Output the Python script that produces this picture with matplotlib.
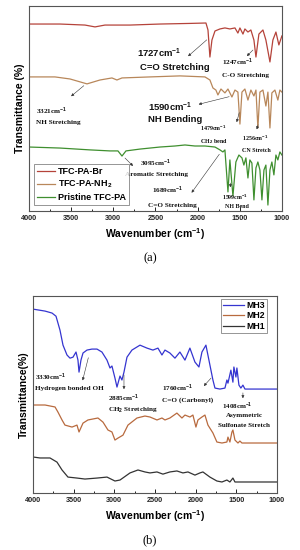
import matplotlib
matplotlib.use("Agg")
import matplotlib.pyplot as plt
from matplotlib.ticker import MultipleLocator

plt.rcParams['font.family'] = ['Liberation Sans', 'DejaVu Sans']
plt.rcParams['mathtext.fontset'] = 'custom'
plt.rcParams['mathtext.rm'] = 'Liberation Sans:bold'
plt.rcParams['mathtext.bf'] = 'Liberation Sans:bold'
plt.rcParams['mathtext.default'] = 'bf'

# ---------------- Panel (a) data ----------------
br_wn = [4000, 3632, 3336, 3217, 3099, 2802, 2447, 2091, 1901, 1877, 1854, 1830, 1794, 1735, 1676,
         1617, 1557, 1522, 1498, 1462, 1439, 1403, 1368, 1332, 1308, 1273, 1225, 1190, 1142, 1107,
         1071, 1036, 1000]
br_t = [91.2, 91.2, 90.7, 89.8, 90.7, 90.7, 91.2, 91.5, 91.7, 88.3, 75.1, 83.4, 87.8, 88.8, 89.3,
        88.8, 89.3, 86.8, 89.3, 86.3, 88.8, 87.3, 88.3, 83.4, 75.1, 86.3, 88.3, 83.4, 72.7, 83.4,
        87.3, 81.0, 85.4]

nh2_wn = [4000, 3692, 3514, 3312, 3158, 3016, 2957, 2897, 2565, 2209, 1913, 1854, 1818, 1783, 1759,
          1723, 1676, 1640, 1593, 1557, 1522, 1498, 1474, 1439, 1403, 1368, 1332, 1308, 1285, 1261,
          1225, 1190, 1166, 1142, 1119, 1083, 1048, 1024, 1000]
nh2_t = [65.4, 65.4, 64.4, 62.0, 63.9, 64.9, 63.9, 64.9, 65.4, 65.9, 65.4, 63.9, 60.0, 59.0, 56.6,
         59.5, 57.6, 59.5, 55.6, 59.0, 58.0, 42.4, 58.0, 59.5, 54.1, 59.0, 56.1, 59.0, 40.5, 58.0,
         59.0, 51.2, 58.0, 40.5, 57.6, 59.0, 54.1, 59.0, 58.0]

pr_wn = [4000, 3632, 3277, 3040, 2945, 2897, 2850, 2684, 2447, 2269, 2150, 2032, 1913, 1794, 1735,
         1700, 1676, 1640, 1617, 1581, 1546, 1510, 1474, 1451, 1427, 1403, 1380, 1356, 1332, 1308,
         1285, 1261, 1237, 1213, 1190, 1166, 1142, 1119, 1095, 1071, 1048, 1024, 1000]
pr_t = [31.2, 30.7, 29.8, 29.3, 29.3, 26.8, 29.3, 30.2, 31.2, 31.7, 32.2, 31.7, 31.7, 31.2, 29.8,
        28.8, 29.8, 9.3, 24.9, 7.3, 23.9, 27.3, 25.9, 22.4, 25.9, 16.1, 24.9, 23.4, 5.4, 21.0,
        23.9, 20.0, 5.4, 20.0, 22.4, 2.9, 20.0, 23.9, 17.6, 27.3, 24.9, 28.8, 27.3]

labels_a = ['TFC-PA-Br', 'TFC-PA-NH$_2$', 'Pristine TFC-PA']

# ---------------- Panel (b) data ----------------
mh3_wn = [4000, 3852, 3766, 3717, 3668, 3631, 3582, 3545, 3508, 3471, 3447, 3434, 3410, 3385, 3336,
          3275, 3213, 3152, 3090, 3053, 3029, 2992, 2967, 2930, 2906, 2881, 2844, 2783, 2684, 2598,
          2525, 2463, 2414, 2377, 2316, 2254, 2193, 2131, 2070, 2008, 1959, 1922, 1873, 1836, 1787,
          1762, 1701, 1639, 1615, 1602, 1566, 1541, 1529, 1504, 1492, 1467, 1443, 1418, 1393, 1000]
mh3_t = [93.4, 92.4, 91.4, 89.8, 82.7, 75.1, 70.1, 68.5, 69.0, 71.6, 67.5, 61.4, 67.5, 71.1, 72.6,
         73.1, 73.1, 71.6, 67.5, 63.5, 64.5, 58.4, 53.8, 59.4, 57.4, 61.4, 69.0, 72.6, 75.1, 73.6,
         72.6, 73.6, 70.1, 72.6, 71.1, 68.5, 71.6, 67.5, 73.6, 66.5, 64.0, 71.6, 75.1, 67.5, 57.4,
         53.3, 52.8, 53.3, 57.4, 55.8, 62.4, 56.3, 64.0, 58.9, 63.5, 54.8, 53.3, 54.8, 52.8, 52.8]

mh2_wn = [4000, 3852, 3729, 3693, 3643, 3607, 3520, 3459, 3434, 3385, 3324, 3201, 3139, 3078, 3029,
          2992, 2955, 2893, 2832, 2721, 2623, 2561, 2475, 2414, 2377, 2316, 2230, 2168, 2131, 2070,
          2033, 1996, 1971, 1922, 1885, 1848, 1787, 1738, 1676, 1615, 1602, 1578, 1553, 1541, 1516,
          1479, 1455, 1430, 1000]
mh2_t = [44.7, 44.7, 43.7, 41.1, 37.1, 34.5, 33.5, 34.5, 31.0, 35.5, 37.1, 38.1, 36.0, 32.0, 31.0,
         26.9, 27.9, 29.4, 34.5, 38.1, 39.1, 38.6, 37.1, 38.1, 37.1, 38.1, 40.6, 38.1, 39.6, 38.6,
         39.6, 33.5, 37.1, 38.6, 39.6, 34.5, 30.5, 25.9, 25.4, 25.9, 28.4, 25.9, 31.0, 32.0, 26.9,
         25.4, 26.4, 25.4, 25.4]

mh1_wn = [4000, 3914, 3791, 3705, 3643, 3570, 3459, 3361, 3213, 3090, 2992, 2930, 2807, 2709, 2623,
          2561, 2475, 2402, 2316, 2230, 2156, 2094, 2008, 1947, 1910, 1824, 1738, 1676, 1615, 1578,
          1541, 1516, 1455, 1000]
mh1_t = [18.3, 17.8, 17.8, 15.7, 11.7, 8.1, 7.6, 7.1, 7.6, 8.1, 6.1, 6.6, 10.2, 11.7, 10.7,
         10.2, 10.7, 9.6, 10.7, 11.2, 10.2, 10.7, 9.1, 10.2, 10.7, 8.1, 6.1, 5.6, 6.6, 5.6,
         7.6, 5.6, 5.6, 5.6]

labels_b = ['MH3', 'MH2', 'MH1']

xticks = [4000, 3500, 3000, 2500, 2000, 1500, 1000]

fig = plt.figure(figsize=(3.0, 5.5), dpi=100)
ax1 = fig.add_axes([0.0967, 0.6164, 0.843, 0.3727])
ax2 = fig.add_axes([0.11, 0.1036, 0.813, 0.358])

frame_col = '#555555'


def style(ax):
    ax.set_xlim(4000, 1000)
    ax.set_ylim(0, 100)
    ax.set_xticks(xticks)
    ax.xaxis.set_minor_locator(MultipleLocator(250))
    ax.set_yticks([])
    ax.tick_params(axis='x', which='major', direction='in', length=3, width=0.7,
                   labelsize=5.2, colors='#222222', pad=3)
    ax.tick_params(axis='x', which='minor', direction='in', length=1.5, width=0.6)
    for lab in ax.get_xticklabels():
        lab.set_fontweight('bold')
    for s in ax.spines.values():
        s.set_color(frame_col)
        s.set_linewidth(0.8)
    ax.set_xlabel('Wavenumber (cm$^{-1}$)', fontsize=7.5, fontweight='bold', labelpad=3)


# ---------- panel (a) ----------
ax1.plot(br_wn, br_t, color='#B5433A', lw=0.9, label=labels_a[0])
ax1.plot(nh2_wn, nh2_t, color='#B8875A', lw=0.9, label=labels_a[1])
ax1.plot(pr_wn, pr_t, color='#3F8F2F', lw=0.9, label=labels_a[2])
style(ax1)
ax1.set_ylabel('Transmittance (%)', fontsize=7.5, fontweight='bold', labelpad=3)
leg = ax1.legend(loc='lower left', bbox_to_anchor=(0.012, 0.02),
                 prop={'weight': 'bold', 'size': 6.5}, frameon=True, fancybox=False,
                 edgecolor='#666666', handlelength=2.0, borderpad=0.35, labelspacing=0.3,
                 handletextpad=0.35, borderaxespad=0.2)
leg.get_frame().set_linewidth(0.6)

serif = ['Liberation Serif', 'DejaVu Serif']
arrow_kw = dict(arrowstyle='-|>', lw=0.4, color='#333333', mutation_scale=4)


def note(ax, xy, xytext):
    ax.annotate('', xy=xytext, xytext=xy, arrowprops=arrow_kw)


def txt(ax, x, y, s, size, fam=None):
    kw = dict(fontsize=size, fontweight='bold', ha='left', va='center', color='#111111')
    if fam is not None:
        kw['family'] = fam
    ax.text(x, y, s, **kw)


txt(ax1, 2719, 77.1, '1727cm$^{-1}$', 6.8)
txt(ax1, 2684, 70.2, 'C=O Stretching', 6.8)
note(ax1, (1866, 84.4), (2138, 74.6))

txt(ax1, 1711, 72.7, '1247cm$^{-1}$', 5.2, serif)
txt(ax1, 1711, 66.3, 'C-O Stretching', 5.2, serif)
note(ax1, (1320, 79.5), (1439, 74.6))

txt(ax1, 3917, 48.8, '3321cm$^{-1}$', 5.2, serif)
txt(ax1, 3917, 43.4, 'NH Stretching', 5.2, serif)
note(ax1, (3324, 62.0), (3526, 55.1))

txt(ax1, 2589, 50.7, '1590cm$^{-1}$', 6.8)
txt(ax1, 2589, 44.4, 'NH Bending', 6.8)
note(ax1, (1593, 56.1), (2020, 51.7))

txt(ax1, 1972, 40.5, '1479cm$^{-1}$', 4.3, serif)
txt(ax1, 1972, 34.1, 'CH$_2$ bend', 4.3, serif)
note(ax1, (1498, 49.3), (1545, 42.0))

txt(ax1, 1474, 35.6, '1256cm$^{-1}$', 4.3, serif)
txt(ax1, 1474, 29.3, 'CN Stretch', 4.3, serif)
note(ax1, (1273, 43.4), (1308, 38.5))

txt(ax1, 2684, 23.4, '3095cm$^{-1}$', 5.2, serif)
txt(ax1, 2862, 17.6, 'Aromatic Stretching', 5.2, serif)
note(ax1, (2885, 26.8), (2743, 21.0))

txt(ax1, 2541, 10.2, '1689cm$^{-1}$', 5.2, serif)
txt(ax1, 2589, 2.9, 'C=O Stretching', 5.2, serif)
note(ax1, (1723, 28.8), (2091, 7.8))

txt(ax1, 1711, 6.8, '1599cm$^{-1}$', 4.3, serif)
txt(ax1, 1676, 2.0, 'NH Bend', 4.3, serif)
note(ax1, (1605, 15.0), (1617, 10.2))

fig.text(0.5, 1 - 258 / 550, '(a)', fontsize=9, family=serif, ha='center', va='center')

# ---------- panel (b) ----------
ax2.plot(mh3_wn, mh3_t, color='#3535D0', lw=0.9, label=labels_b[0])
ax2.plot(mh2_wn, mh2_t, color='#B86A3E', lw=0.9, label=labels_b[1])
ax2.plot(mh1_wn, mh1_t, color='#333333', lw=0.9, label=labels_b[2])
style(ax2)
ax2.set_ylabel('Transmittance(%)', fontsize=7.5, fontweight='bold', labelpad=3)
leg2 = ax2.legend(loc='upper right', bbox_to_anchor=(0.963, 0.99),
                  prop={'weight': 'bold', 'size': 6.3}, frameon=True, fancybox=False,
                  edgecolor='#666666', handlelength=2.3, borderpad=0.25, labelspacing=0.15,
                  handletextpad=0.3, borderaxespad=0.1)
leg2.get_frame().set_linewidth(0.6)

txt(ax2, 3975, 58.9, '3330cm$^{-1}$', 5.2, serif)
txt(ax2, 3975, 53.3, 'Hydrogen bonded OH', 5.2, serif)
note(ax2, (3311, 70.1), (3398, 55.8))

txt(ax2, 3078, 48.2, '2885cm$^{-1}$', 5.2, serif)
txt(ax2, 3078, 42.1, 'CH$_2$ Stretching', 5.2, serif)
note(ax2, (2881, 61.4), (2881, 51.3))

txt(ax2, 2414, 53.3, '1760cm$^{-1}$', 5.2, serif)
txt(ax2, 2414, 47.2, 'C=O (Carbonyl)', 5.2, serif)
note(ax2, (1787, 59.4), (1922, 53.3))

txt(ax2, 1676, 44.2, '1408cm$^{-1}$', 5.0, serif)
txt(ax2, 1627, 39.6, 'Asymmetric', 5.0, serif)
txt(ax2, 1725, 34.5, 'Sulfonate Stretch', 5.0, serif)
note(ax2, (1418, 52.3), (1418, 46.7))

fig.text(0.5, 1 - 540 / 550, '(b)', fontsize=9, family=serif, ha='center', va='center')

fig.savefig('out.png', dpi=100)
